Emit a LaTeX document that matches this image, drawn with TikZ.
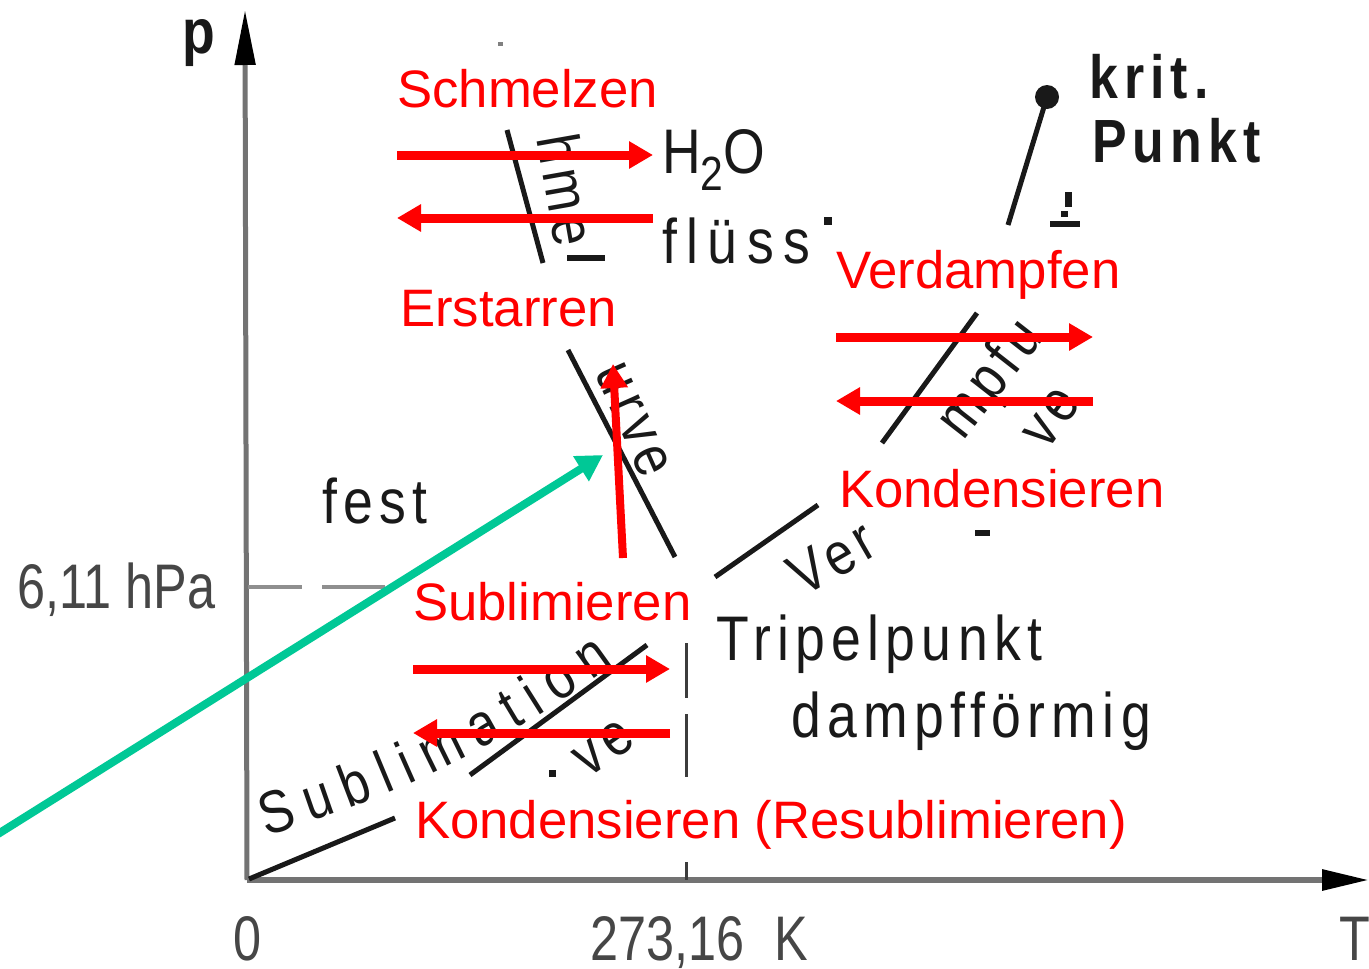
\documentclass[tikz,border=0pt]{standalone}
\usepackage{fontspec}
\setmainfont{Liberation Sans}
\newfontfamily\din[FakeStretch=0.85,LetterSpace=10]{Liberation Sans}
\newfontfamily\dinmid[FakeStretch=0.85,LetterSpace=15]{Liberation Sans}
\newfontfamily\dinplain[FakeStretch=0.85]{Liberation Sans}
\newfontfamily\numfont[FakeStretch=0.8]{Liberation Sans}
\usetikzlibrary{arrows.meta,decorations.text}
\definecolor{redann}{RGB}{255,0,0}
\definecolor{greenann}{RGB}{0,200,150}
\definecolor{ink}{RGB}{25,25,25}
\definecolor{axisgray}{RGB}{115,115,115}
\definecolor{numgray}{RGB}{70,70,70}
\begin{document}
\begin{tikzpicture}[x=1pt,y=-1pt,
  redtext/.style={text=redann, font=\fontsize{52.7}{60}\selectfont, inner sep=0pt, anchor=base west},
  lbl/.style={text=ink, font=\din\fontsize{63}{70}\selectfont, inner sep=0pt, anchor=base west},
  boldlbl/.style={lbl, font=\din\bfseries\fontsize{61}{70}\selectfont},
  numlbl/.style={lbl, text=numgray, font=\numfont\fontsize{63}{70}\selectfont},
  frag/.style={text=ink, font=\din\fontsize{60}{66}\selectfont, inner sep=0pt, anchor=center},
  curve/.style={draw=ink, line width=5pt},
  axis/.style={draw=axisgray, line width=5pt},
  dashseg/.style={draw=axisgray!80, line width=4pt},
  redarrow/.style={draw=redann, line width=9pt, -{Triangle[length=24pt,width=26pt]}},
  greenarrow/.style={draw=greenann, line width=8pt, -{Triangle[length=26pt,width=28pt]}},
  scanmark/.style={fill=ink}
]
\useasboundingbox (0,0) rectangle (1369,969);
\fill[white] (0,0) rectangle (1369,969);

% ---------- axes ----------
\coordinate (O) at (247,880);
\coordinate (ptop) at (245,10);
\coordinate (Tend) at (1369,880);
\draw[axis, -{Triangle[length=55pt,width=20pt,color=black]}] (O) -- (ptop);
\draw[axis, line width=6pt, -{Triangle[length=47pt,width=20pt,color=black]}] (O) -- (Tend);
\node[lbl, font=\din\bfseries\fontsize{63}{70}\selectfont] (plabel) at (182,53) {p};
\node[numlbl] (zero) at (233,960) {0};
\node[numlbl] (t0) at (590,960) {273,16\hspace{30pt}K};
\node[numlbl] (Tlabel) at (1339,960) {T};
\node[numlbl] (ptp) at (17,608) {6,11 hPa};

% dashed helper lines
\draw[dashseg] (248,587) -- (302,587);
\draw[dashseg] (322,587) -- (385,587);
\draw[draw=ink!85, line width=3pt] (686,643) -- (686,698);
\draw[draw=ink!85, line width=3pt] (686,714) -- (686,777);
\draw[draw=ink!85, line width=3pt] (686,862) -- (686,880);

% ---------- phase boundary fragments ----------
% melting curve
\draw[curve] (507,130) -- (543,263);
\draw[curve] (568,350) -- (675,557);
% sublimation curve
\draw[curve] (249,879) -- (395,818);
\draw[curve] (470,775) -- (647,645);
% vaporisation curve
\draw[curve] (715,577) -- (818,505);
\draw[curve] (882,443) -- (977,313);
\draw[curve] (1008,225) -- (1047,97);
\fill[ink] (1047,97) circle (12);

% ---------- black labels ----------
\node[boldlbl] (krit) at (1089,98) {krit.};
\node[boldlbl] (punkt) at (1092,162) {Punkt};
\node[lbl] (h2o) at (662,173) {H{\fontsize{48}{48}\selectfont\raisebox{-17pt}{2}}O};
\node[lbl, font=\dinmid\fontsize{63}{70}\selectfont] (fluess) at (662,263) {flüss};
\node[lbl] (fest) at (322,523) {fest};
\node[lbl] (tripel) at (716,660) {Tripelpunkt};
\node[lbl] (dampf) at (791,737) {dampfförmig};

% rotated fragments of curve labels
\node[frag, rotate=-80] (fragA) at (567,190) {hme};
\node[frag, rotate=-66] (fragB) at (633,420) {urve};
\path[decorate, decoration={text along path,
    text={|\dinplain\fontsize{60}{66}\selectfont\color{ink}|Sublimation},
    text align={fit to path}}]
  (266,836) .. controls (380,800) and (480,762) .. (614,664);
\node[frag, rotate=35] (fragD) at (604,748) {ve};
\node[frag, rotate=30] (fragE) at (832,558) {Ver};
\node[frag, rotate=52] (fragF) at (992,380) {mpfu};
\node[frag, rotate=54] (fragG) at (1052,418) {ve};

% small scan marks
\fill[scanmark] (824,217) rectangle (832,225);
\fill[scanmark] (1065,192) rectangle (1072,207);
\fill[scanmark] (1061,211) rectangle (1068,217);
\fill[scanmark] (1050,221) rectangle (1080,227);
\fill[scanmark] (975,530) rectangle (990,536);
\fill[scanmark] (567,255) rectangle (605,261);
\fill[scanmark] (549,770) rectangle (556,777);
\fill[gray] (498,42) rectangle (503,46);

% ---------- red annotations ----------
\coordinate (s1) at (397,155); \coordinate (s2) at (653,155);
\coordinate (e1) at (653,218); \coordinate (e2) at (397,218);
\coordinate (v1) at (836,337); \coordinate (v2) at (1093,337);
\coordinate (k1) at (1093,401); \coordinate (k2) at (836,401);
\coordinate (u1) at (413,669); \coordinate (u2) at (670,669);
\coordinate (r1) at (670,733); \coordinate (r2) at (413,733);
\coordinate (m1) at (623,558); \coordinate (m2) at (613,364);
\draw[redarrow] (s1) -- (s2);
\draw[redarrow] (e1) -- (e2);
\draw[redarrow] (v1) -- (v2);
\draw[redarrow] (k1) -- (k2);
\draw[redarrow] (u1) -- (u2);
\draw[redarrow] (r1) -- (r2);
\draw[redarrow, line width=8pt] (m1) -- (m2);

\node[redtext] (tSchmelzen) at (397,107) {Schmelzen};
\node[redtext] (tErstarren) at (400,326) {Erstarren};
\node[redtext] (tVerdampfen) at (836,288) {Verdampfen};
\node[redtext] (tKond) at (839,507) {Kondensieren};
\node[redtext] (tSubl) at (413,620) {Sublimieren};
\node[redtext] (tResub) at (415,838) {Kondensieren (Resublimieren)};

% ---------- green arrow ----------
\coordinate (g1) at (-10,839);
\coordinate (g2) at (603,455);
\draw[greenarrow] (g1) -- (g2);
\end{tikzpicture}
\end{document}
